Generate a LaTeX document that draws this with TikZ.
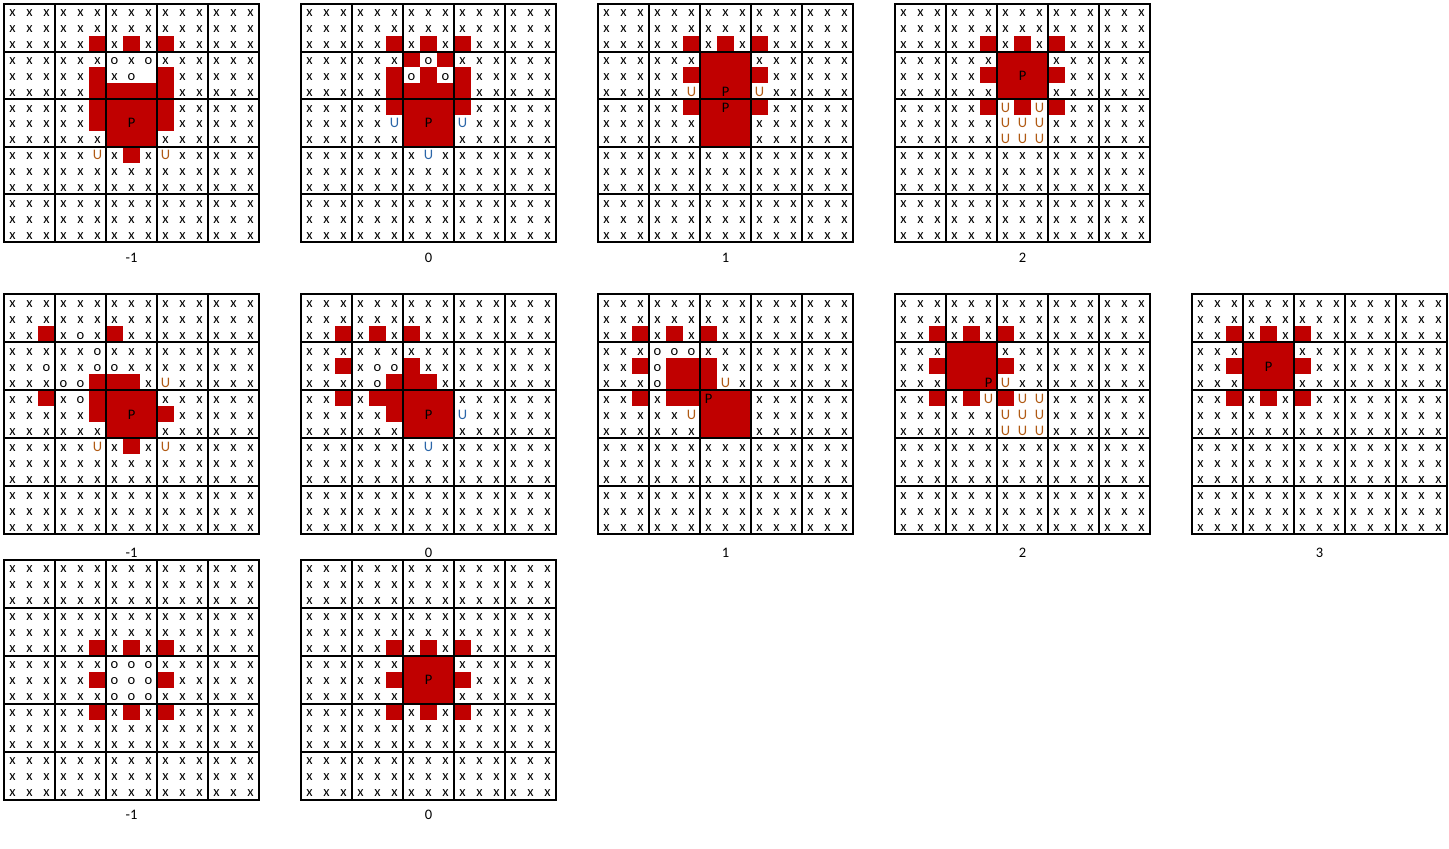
\documentclass[tikz,border=0pt]{standalone}
\usepackage{fontspec}
\setmainfont{Carlito}
\definecolor{redc}{HTML}{C00000}
\definecolor{uor}{HTML}{B05A14}
\definecolor{ubl}{HTML}{2B66A8}
\newcount\rowc
\newcount\colc
\tikzset{
  celltxt/.style={font=\fontsize{14.5}{17}\selectfont, inner sep=0pt, anchor=base, text=black},
  redcell/.style={fill=redc},
  blockline/.style={line width=2pt, draw=black, line cap=rect},
  lab/.style={font=\fontsize{14.5}{17}\selectfont, inner sep=0pt, anchor=base, text=black}
}
\def\px{0}\def\py{0}\def\ph{238}\def\rh{16}\def\pn{A}
\newcommand\panelstart[4]{\def\pn{#1}\def\px{#2}\def\py{#3}\def\ph{#4}\pgfmathsetmacro\rh{#4/15}\rowc=0 }
\def\parsecells#1{\ifx#1\relax\else\drawcell#1\advance\colc by 1 \expandafter\parsecells\fi}
\newcommand\prow[1]{\colc=0 \parsecells#1\relax\advance\rowc by 1 }
\newcommand\xr{\prow{xxxxxxxxxxxxxxx}}
\def\drawcell#1{%
  \pgfmathsetmacro\cl{\px+17*\the\colc}%
  \pgfmathsetmacro\ct{\py+\rh*\the\rowc}%
  \pgfmathsetmacro\cx{\cl+8.5}%
  \pgfmathsetmacro\cb{\ct+\rh-3}%
  \edef\nm{\pn-\the\rowc-\the\colc}%
  \if#1x\node[celltxt] (\nm) at (\cx,\cb) {x};\fi
  \if#1o\node[celltxt] (\nm) at (\cx,\cb) {o};\fi
  \if#1R\fill[redcell] (\cl,\ct) rectangle ++(17,\rh);\fi
  \if#1P\fill[redcell] (\cl,\ct) rectangle ++(17,\rh);\node[celltxt] (\nm) at (\cx,\cb) {P};\fi
  \if#1u\node[celltxt,text=uor] (\nm) at (\cx,\cb) {U};\fi
  \if#1b\node[celltxt,text=ubl] (\nm) at (\cx,\cb) {U};\fi
}
\newcommand\panelfinish[2]{%
  \draw[blockline] (\px,\py) rectangle ++(255,\ph);
  \foreach \i in {1,...,4} {
    \draw[blockline] (\px+51*\i,\py) -- ++(0,\ph);
    \draw[blockline] (\px,\py+\ph*\i/5) -- ++(255,0);
  }
  \node[lab] (\pn-lab) at (\px+127.5,#2) {#1};
}
\begin{document}
\begin{tikzpicture}[x=1pt,y=-1pt]
\useasboundingbox (0,0) rectangle (1449,849);
% ---------- Row 1 ----------
\panelstart{A}{4}{4}{238}
\xr\xr
\prow{xxxxxRxRxRxxxxx}
\prow{xxxxxxoxoxxxxxx}
\prow{xxxxxRxo.Rxxxxx}
\prow{xxxxxRRRRRxxxxx}
\prow{xxxxxRRRRRxxxxx}
\prow{xxxxxRRPRRxxxxx}
\prow{xxxxxxRRRxxxxxx}
\prow{xxxxxuxRxuxxxxx}
\xr\xr\xr\xr\xr
\panelfinish{-1}{262}
\panelstart{B}{301}{4}{238}
\xr\xr
\prow{xxxxxRxRxRxxxxx}
\prow{xxxxxxRoRxxxxxx}
\prow{xxxxxRoRoRxxxxx}
\prow{xxxxxRRRRRxxxxx}
\prow{xxxxxRRRRRxxxxx}
\prow{xxxxxbRPRbxxxxx}
\prow{xxxxxxRRRxxxxxx}
\prow{xxxxxxxbxxxxxxx}
\xr\xr\xr\xr\xr
\panelfinish{0}{262}
\panelstart{C}{598}{4}{238}
\xr\xr
\prow{xxxxxRxRxRxxxxx}
\prow{xxxxxxRRRxxxxxx}
\prow{xxxxxRRRRRxxxxx}
\prow{xxxxxuRPRuxxxxx}
\prow{xxxxxRRPRRxxxxx}
\prow{xxxxxxRRRxxxxxx}
\prow{xxxxxxRRRxxxxxx}
\xr\xr\xr\xr\xr\xr
\panelfinish{1}{262}
\panelstart{D}{895}{4}{238}
\xr\xr
\prow{xxxxxRxRxRxxxxx}
\prow{xxxxxxRRRxxxxxx}
\prow{xxxxxRRPRRxxxxx}
\prow{xxxxxxRRRxxxxxx}
\prow{xxxxxRuRuRxxxxx}
\prow{xxxxxxuuuxxxxxx}
\prow{xxxxxxuuuxxxxxx}
\xr\xr\xr\xr\xr\xr
\panelfinish{2}{262}
% ---------- Row 2 ----------
\panelstart{E}{4}{294}{240}
\xr\xr
\prow{xxRxoxRxxxxxxxx}
\prow{xxxxxoxxxxxxxxx}
\prow{xxoxxooxxxxxxxx}
\prow{xxxooRRRxuxxxxx}
\prow{xxRxoRRRRxxxxxx}
\prow{xxxxxRRPRRxxxxx}
\prow{xxxxxxRRRxxxxxx}
\prow{xxxxxuxRxuxxxxx}
\xr\xr\xr\xr\xr
\panelfinish{-1}{557}
\panelstart{F}{301}{294}{240}
\xr\xr
\prow{xxRxRxRxxxxxxxx}
\prow{xxxxxxxxxxxxxxx}
\prow{xxRxooRxxxxxxxx}
\prow{xxxxoRRRxxxxxxx}
\prow{xxRxRRRRRxxxxxx}
\prow{xxxxxRRPRbxxxxx}
\prow{xxxxxxRRRxxxxxx}
\prow{xxxxxxxbxxxxxxx}
\xr\xr\xr\xr\xr
\panelfinish{0}{557}
\panelstart{G}{598}{294}{240}
\xr\xr
\prow{xxRxRxRxxxxxxxx}
\prow{xxxoooxxxxxxxxx}
\prow{xxRoRRRxxxxxxxx}
\prow{xxxoRRRuxxxxxxx}
\prow{xxRxRRPRRxxxxxx}
\prow{xxxxxuRRRxxxxxx}
\prow{xxxxxxRRRxxxxxx}
\xr\xr\xr\xr\xr\xr
\panelfinish{1}{557}
\panelstart{H}{895}{294}{240}
\xr\xr
\prow{xxRxRxRxxxxxxxx}
\prow{xxxRRRxxxxxxxxx}
\prow{xxRRRRRxxxxxxxx}
\prow{xxxRRPuxxxxxxxx}
\prow{xxRxRuRuuxxxxxx}
\prow{xxxxxxuuuxxxxxx}
\prow{xxxxxxuuuxxxxxx}
\xr\xr\xr\xr\xr\xr
\panelfinish{2}{557}
\panelstart{I}{1192}{294}{240}
\xr\xr
\prow{xxRxRxRxxxxxxxx}
\prow{xxxRRRxxxxxxxxx}
\prow{xxRRPRRxxxxxxxx}
\prow{xxxRRRxxxxxxxxx}
\prow{xxRxRxRxxxxxxxx}
\xr\xr\xr\xr\xr\xr\xr\xr
\panelfinish{3}{557}
% ---------- Row 3 ----------
\panelstart{J}{4}{560}{239.5}
\xr\xr\xr\xr\xr
\prow{xxxxxRxRxRxxxxx}
\prow{xxxxxxoooxxxxxx}
\prow{xxxxxRoooRxxxxx}
\prow{xxxxxxoooxxxxxx}
\prow{xxxxxRxRxRxxxxx}
\xr\xr\xr\xr\xr
\panelfinish{-1}{819}
\panelstart{K}{301}{560}{239.5}
\xr\xr\xr\xr\xr
\prow{xxxxxRxRxRxxxxx}
\prow{xxxxxxRRRxxxxxx}
\prow{xxxxxRRPRRxxxxx}
\prow{xxxxxxRRRxxxxxx}
\prow{xxxxxRxRxRxxxxx}
\xr\xr\xr\xr\xr
\panelfinish{0}{819}
\end{tikzpicture}
\end{document}
